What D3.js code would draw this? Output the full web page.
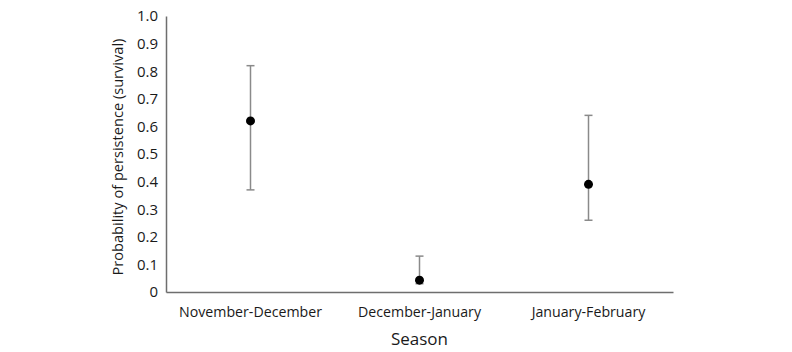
<!DOCTYPE html>
<html>
<head>
<meta charset="utf-8">
<script src="https://cdn.jsdelivr.net/npm/d3@7"></script>
<style>
  body { margin: 0; background: #fff; }
  text { font-family: "Open Sans", "Noto Sans", sans-serif; fill: #1a1a1a; }
</style>
</head>
<body>
<div id="chart"></div>
<script>

var seasons = ["November-December", "December-January", "January-February"];
var survival = [0.62, 0.043, 0.39];
var lower = [0.37, 0.03, 0.26];
var upper = [0.82, 0.13, 0.64];
var yTicks = [0, 0.1, 0.2, 0.3, 0.4, 0.5, 0.6, 0.7, 0.8, 0.9, 1.0];

var width = 792, height = 352;
var margin = {top: 16, right: 119, bottom: 60, left: 166};

var svg = d3.select("#chart")
    .append("svg")
    .attr("width", width)
    .attr("height", height);

var x = d3.scaleBand()
    .domain(seasons)
    .range([margin.left, width - margin.right]);

var y = d3.scaleLinear()
    .domain([0, 1])
    .range([height - margin.bottom, margin.top]);

var data = seasons.map(function(s, i) {
    return {season: s, p: survival[i], lo: lower[i], hi: upper[i]};
});

// y axis
var yAxis = svg.append("g")
    .attr("transform", "translate(" + margin.left + ",0)")
    .call(d3.axisLeft(y).tickValues(yTicks).tickSize(0).tickPadding(8)
        .tickFormat(function(d) { return d === 0 ? "0" : d3.format(".1f")(d); }));
yAxis.select(".domain").attr("stroke", "#6e6e6e").attr("stroke-width", 1.5);
yAxis.selectAll("text").style("font-size", "15px").attr("fill", "#1a1a1a");

// x axis
var xAxis = svg.append("g")
    .attr("transform", "translate(0," + (height - margin.bottom) + ")")
    .call(d3.axisBottom(x).tickSize(0).tickPadding(15));
xAxis.select(".domain").attr("stroke", "#6e6e6e").attr("stroke-width", 1.5);
xAxis.selectAll("text").style("font-size", "14.2px").attr("fill", "#1a1a1a");

// error bars
var eb = svg.selectAll(".errbar")
    .data(data)
    .enter()
    .append("g")
    .attr("class", "errbar")
    .attr("stroke", "#8a8a8a")
    .attr("stroke-width", 1.5);

eb.append("line")
    .attr("x1", function(d) { return x(d.season) + x.bandwidth() / 2; })
    .attr("x2", function(d) { return x(d.season) + x.bandwidth() / 2; })
    .attr("y1", function(d) { return y(d.lo); })
    .attr("y2", function(d) { return y(d.hi); });

eb.append("line")
    .attr("x1", function(d) { return x(d.season) + x.bandwidth() / 2 - 4; })
    .attr("x2", function(d) { return x(d.season) + x.bandwidth() / 2 + 4; })
    .attr("y1", function(d) { return y(d.hi); })
    .attr("y2", function(d) { return y(d.hi); });

eb.append("line")
    .attr("x1", function(d) { return x(d.season) + x.bandwidth() / 2 - 4; })
    .attr("x2", function(d) { return x(d.season) + x.bandwidth() / 2 + 4; })
    .attr("y1", function(d) { return y(d.lo); })
    .attr("y2", function(d) { return y(d.lo); });

// points
svg.selectAll("circle")
    .data(data)
    .enter()
    .append("circle")
    .attr("cx", function(d) { return x(d.season) + x.bandwidth() / 2; })
    .attr("cy", function(d) { return y(d.p); })
    .attr("r", 4.5)
    .attr("fill", "#000");

// axis titles
svg.append("text")
    .attr("x", (margin.left + width - margin.right) / 2)
    .attr("y", 345)
    .attr("text-anchor", "middle")
    .style("font-size", "17px")
    .text("Season");

svg.append("text")
    .attr("transform", "translate(123," + 157 + ") rotate(-90)")
    .attr("text-anchor", "middle")
    .style("font-size", "14.6px")
    .text("Probability of persistence (survival)");

</script>
</body>
</html>
